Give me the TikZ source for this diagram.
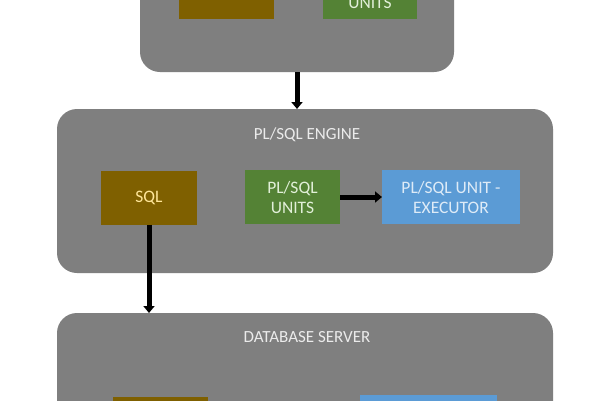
\documentclass[tikz,border=0pt]{standalone}
\usepackage{fontspec}
\setmainfont{Carlito}
\usepackage{xcolor}
\usetikzlibrary{arrows.meta, positioning}
\definecolor{panelgray}{RGB}{127,127,127}
\definecolor{sqlbrown}{RGB}{127,96,0}
\definecolor{unitgreen}{RGB}{84,130,53}
\definecolor{execblue}{RGB}{91,155,213}
\definecolor{sqltext}{RGB}{255,230,153}
\definecolor{unittext}{RGB}{226,240,217}
\definecolor{exectext}{RGB}{222,235,247}
\definecolor{titletext}{RGB}{235,235,235}

\begin{document}
\begin{tikzpicture}[x=1pt, y=-1pt,
    panel/.style={rectangle, rounded corners=20pt, fill=panelgray, inner sep=0pt, outer sep=0pt},
    box/.style={rectangle, inner sep=0pt, outer sep=0pt, minimum height=54pt, align=center, font=\fontsize{17.5}{20}\selectfont},
    title/.style={font=\fontsize{17}{20}\selectfont, text=titletext},
    arrow/.style={-{Triangle[length=7pt,width=11pt]}, line width=5pt}
]
\clip (0,0) rectangle (600,400);
\fill[white] (0,0) rectangle (600,400);

% panels
\node[panel, minimum width=314pt, minimum height=172pt] (client) at (297,-14) {};
\node[panel, minimum width=496pt, minimum height=164pt] (engine) at (305,191) {};
\node[panel, minimum width=496pt, minimum height=187pt] (dbserver) at (305,406.5) {};

\node[title] (enginetitle) at (307,135) {PL/SQL ENGINE};
\node[title] (dbtitle) at (307,337) {DATABASE SERVER};

% top panel
\node[box, fill=sqlbrown, minimum width=95pt] (topsql) at (226.5,-8.5) {};
\node[box, fill=unitgreen, text=unittext, minimum width=94pt] (topunits) at (370,-8) {PL/SQL\\UNITS};

% engine
\node[box, fill=sqlbrown, text=sqltext, minimum width=96pt] (sql) at (149,197.5) {SQL};
\node[box, fill=unitgreen, text=unittext, minimum width=95pt] (units) at (292.5,197) {PL/SQL\\UNITS};
\node[box, fill=execblue, text=exectext, minimum width=138pt] (executor) at (451,197) {PL/SQL UNIT -\\EXECUTOR};

% database server
\node[box, fill=sqlbrown, minimum width=95pt] (dbsql) at (160.5,424) {};
\node[box, fill=execblue, minimum width=137pt] (dbexecutor) at (428.5,422) {};

\draw[arrow] (client.south) -- (client.south |- engine.north);
\draw[arrow] (units) -- (executor);
\draw[arrow] (sql) -- (sql |- dbserver.north);
\end{tikzpicture}
\end{document}
